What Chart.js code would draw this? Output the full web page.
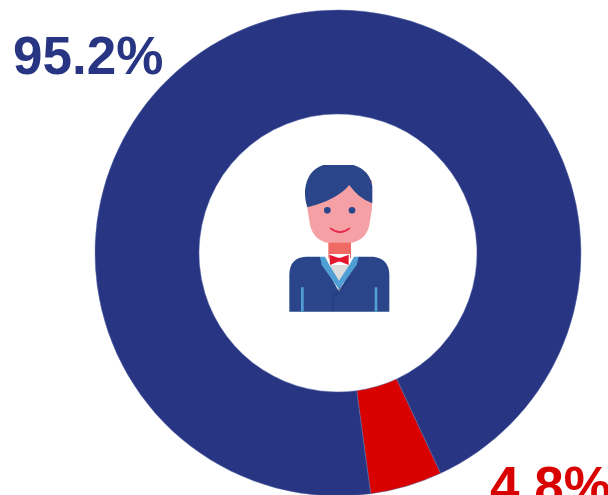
<!DOCTYPE html>
<html>
<head>
<meta charset="utf-8">
<script src="https://cdn.jsdelivr.net/npm/chart.js"></script>
<style>
html,body{margin:0;padding:0;width:608px;height:495px;overflow:hidden;background:#fff}
#wrap{position:absolute;left:0;top:0;width:608px;height:495px;overflow:hidden}
canvas{position:absolute;left:0;top:0}
.lab{position:absolute;font-family:"Liberation Sans",Arial,sans-serif;font-weight:bold;font-size:53px;line-height:53px;white-space:nowrap}
svg{position:absolute;left:270px;top:150px}
</style>
</head>
<body>
<div id="wrap">
<canvas id="c" width="676" height="506"></canvas>
<div class="lab" id="l0" style="left:13px;top:29px;color:#283583"></div>
<div class="lab" id="l1" style="left:490px;top:459px;color:#d90000"></div>
<svg width="140" height="175" viewBox="0 0 420 525">
  <path fill="#2a4589" d="M58 485V372Q60 322 108 320H150L207 425L265 320H310Q356 325 358 372V485Z"/>
  <path fill="#ef6a63" d="M175 270H243V325H175Z"/>
  <path fill="#fff" d="M178 312H240V350H178Z"/>
  <path fill="#dcdcdc" d="M178 345H238L207 402Z"/>
  <path fill="#e5172f" d="M178 314L204 323H212L236 314V345L212 335H204L180 345Z"/>
  <path fill="#4f9fd5" d="M150 320H165L178 345L207 392L238 345L252 320H266L260 345L207 418L155 345Z"/>
  <path fill="#1f3a7c" d="M186 485V434L262 362L205 432L190 445V485Z" opacity=".55"/>
  <path fill="#4f9fd5" d="M93 412H101V485H93ZM314 412H322V485H314Z"/>
  <path fill="#f4a0a5" d="M112 90V175L120 225Q130 268 170 278H245Q290 268 298 225L306 175V90Z"/>
  <path fill="#2a4589" d="M160 45H250Q300 60 307 110V160Q265 145 238 105Q200 150 112 172Q104 150 105 120Q112 60 160 45Z"/>
  <circle cx="172" cy="181" r="10" fill="#2a4589"/>
  <circle cx="246" cy="181" r="10" fill="#2a4589"/>
  <path fill="none" stroke="#e8274b" stroke-width="5" stroke-linecap="round" d="M182 235Q210 258 238 235"/>
</svg>
</div>
<script>
const categories = ["Red share", "Blue share"];
const shareValues = [4.8, 95.2];
const shareLabels = ["4.8%", "95.2%"];
const sliceColors = ["#d90000", "#283583"];

document.getElementById("l0").textContent = shareLabels[1];
document.getElementById("l1").textContent = shareLabels[0];

new Chart(document.getElementById("c"), {
  type: "doughnut",
  data: {
    labels: categories,
    datasets: [{
      data: shareValues,
      backgroundColor: sliceColors,
      borderColor: "#5a6aa8",
      borderWidth: 0.5,
      radius: 243,
      cutout: "57.2%",
      rotation: 155
    }]
  },
  options: {
    responsive: false,
    animation: false,
    layout: { padding: 0 },
    plugins: { legend: { display: false }, tooltip: { enabled: false }, title: { display: false } }
  }
});
</script>
</body>
</html>
